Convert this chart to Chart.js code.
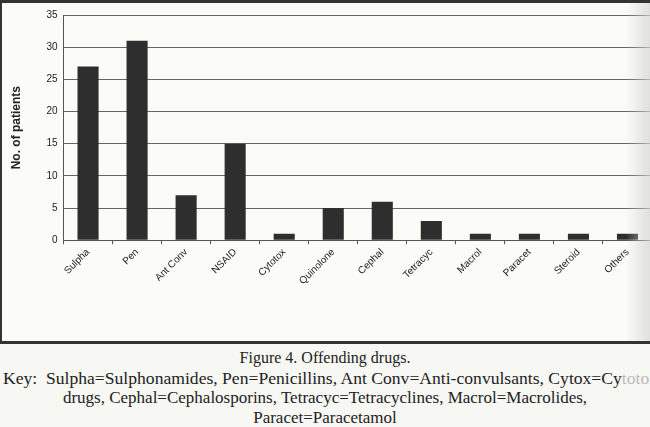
<!DOCTYPE html>
<html>
<head>
<meta charset="utf-8">
<script src="https://cdn.jsdelivr.net/npm/chart.js@4/dist/chart.umd.min.js"></script>
<style>
  html, body { margin: 0; padding: 0; background: #f7f7f3; }
  body { width: 650px; height: 427px; overflow: hidden; position: relative; }
  #frame {
    position: absolute; left: 0; top: 0; width: 652px; height: 338px;
    border-top: 3px solid #333; border-left: 2px solid #333; border-bottom: 3px solid #333;
    background: #fbfbf8;
  }
  #frame canvas { display: block; }
  #wash {
    position: absolute; left: 626px; top: 3px; width: 24px; height: 338px;
    background: linear-gradient(to right, rgba(220,220,215,0), rgba(212,212,207,0.7));
  }
  .cap {
    position: absolute; left: 0; width: 650px;
    font-family: "Liberation Serif", "DejaVu Serif", serif; font-size: 17px; color: #222;
    line-height: 20px; white-space: nowrap;
  }
  .fade { color: #bbb; }
</style>
</head>
<body>
<div id="frame"><canvas id="drugChart" width="650" height="338"></canvas></div>
<div id="wash"></div>
<div class="cap" style="top:348px; text-align:center; font-size:16px;">Figure 4. Offending drugs.</div>
<div class="cap" style="top:368px; left:3px; font-size:17.6px;">Key:&nbsp; Sulpha=Sulphonamides, Pen=Penicillins, Ant Conv=Anti-convulsants, Cytox=Cy<span class="fade">totoxic</span></div>
<div class="cap" style="top:388px; text-align:center;">drugs, Cephal=Cephalosporins, Tetracyc=Tetracyclines, Macrol=Macrolides,</div>
<div class="cap" style="top:408px; text-align:center;">Paracet=Paracetamol</div>
<script>
const categories = ['Sulpha', 'Pen', 'Ant Conv', 'NSAID', 'Cytotox', 'Quinolone', 'Cephal', 'Tetracyc', 'Macrol', 'Paracet', 'Steroid', 'Others'];
const patients = [27, 31, 7, 15, 1, 5, 6, 3, 1, 1, 1, 1];
const yMin = 0;
const yMax = 35;
const yStep = 5;

Chart.defaults.font.family = '"Liberation Sans", Arial, sans-serif';
Chart.defaults.color = '#222';

const ctx = document.getElementById('drugChart').getContext('2d');
new Chart(ctx, {
  type: 'bar',
  data: {
    labels: categories,
    datasets: [{
      label: 'No. of patients',
      data: patients,
      backgroundColor: '#2e2e2e',
      borderWidth: 0,
      barPercentage: 0.43,
      categoryPercentage: 1
    }]
  },
  options: {
    responsive: false,
    animation: false,
    layout: { padding: { left: 3, top: 0, right: 0, bottom: 52 } },
    plugins: { legend: { display: false }, tooltip: { enabled: false } },
    scales: {
      x: {
        grid: { offset: true, drawOnChartArea: false, drawTicks: true, tickLength: 4, color: '#555' },
        border: { display: true, color: '#555', width: 1 },
        ticks: { minRotation: 45, maxRotation: 45, font: { size: 10 }, padding: 2 }
      },
      y: {
        min: yMin,
        max: yMax,
        ticks: { stepSize: yStep, font: { size: 10 }, padding: 6 },
        grid: { color: '#666', drawTicks: false },
        border: { display: true, color: '#555', width: 1 },
        title: { display: true, text: 'No. of patients', font: { size: 12, weight: 'bold' }, padding: { bottom: 17 } }
      }
    }
  }
});
</script>
</body>
</html>
